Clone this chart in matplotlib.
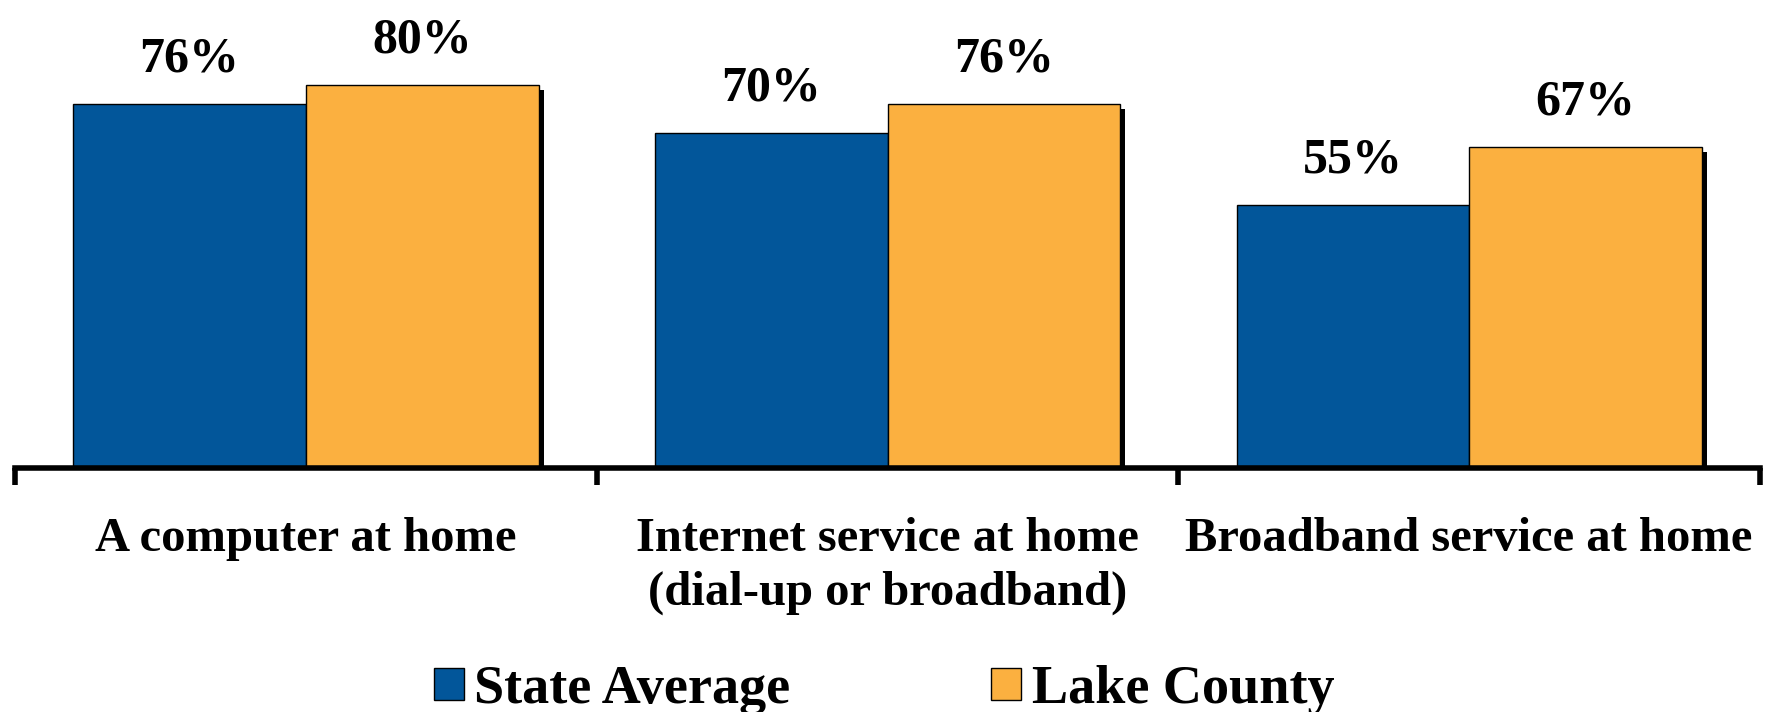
import matplotlib
matplotlib.use("Agg")
import matplotlib.pyplot as plt
import matplotlib.patheffects as pe
from matplotlib.patches import Patch
import numpy as np

categories = ["A computer at home",
              "Internet service at home\n(dial-up or broadband)",
              "Broadband service at home"]
series_names = ["State Average", "Lake County"]
state_avg = [76, 70, 55]
lake_county = [80, 76, 67]
colors = ["#02569A", "#FBB040"]

plt.rcParams['font.family'] = ['Liberation Serif', 'DejaVu Serif']
plt.rcParams['font.weight'] = 'bold'

W, H = 1767, 712
fig = plt.figure(figsize=(W / 100, H / 100), dpi=100)
ax_bottom = 244 / H
ymax = 95
ax_h = ymax * 4.79 / H
ax = fig.add_axes([15 / W, ax_bottom, (1760 - 15) / W, ax_h])

x = np.arange(len(categories))
bw = 0.4
shadow = [pe.SimplePatchShadow(offset=(3.8, -3.8), shadow_rgbFace='black', alpha=1.0), pe.Normal()]
b1 = ax.bar(x - bw / 2, state_avg, bw, color=colors[0], edgecolor='black', linewidth=1.0,
            path_effects=shadow, zorder=2)
b2 = ax.bar(x + bw / 2, lake_county, bw, color=colors[1], edgecolor='black', linewidth=1.0,
            path_effects=shadow, zorder=2)

for bars, vals in ((b1, state_avg), (b2, lake_county)):
    for r, v in zip(bars, vals):
        ax.annotate(f"{v}%", (r.get_x() + r.get_width() / 2, v), xytext=(0, 32),
                    textcoords='offset points', ha='center', va='center',
                    fontsize=36, fontweight='bold', color='black')

ax.set_xlim(-0.5, 2.5)
ax.set_ylim(0, ymax)
for s in ('left', 'right', 'top'):
    ax.spines[s].set_visible(False)
ax.spines['bottom'].set_linewidth(4)
ax.spines['bottom'].set_zorder(5)
ax.set_yticks([])
ax.set_xticks(x)
ax.set_xticklabels(categories, fontsize=35, fontweight='bold', linespacing=1.3)
ax.tick_params(axis='x', which='major', length=0, pad=35)
ax.set_xticks([-0.5, 0.5, 1.5, 2.5], minor=True)
ax.tick_params(axis='x', which='minor', length=12, width=4, direction='out', color='black')

handles = [Patch(facecolor=colors[0], edgecolor='black', linewidth=1),
           Patch(facecolor=colors[1], edgecolor='black', linewidth=1)]
leg = fig.legend(handles, series_names, loc='center', bbox_to_anchor=(884 / W, 1 - 690 / H),
                 ncol=2, frameon=False, prop={'weight': 'bold', 'size': 39},
                 handlelength=0.55, handleheight=0.55, handletextpad=0.2, columnspacing=3.7,
                 borderaxespad=0)

fig.savefig("out.png", dpi=100)
